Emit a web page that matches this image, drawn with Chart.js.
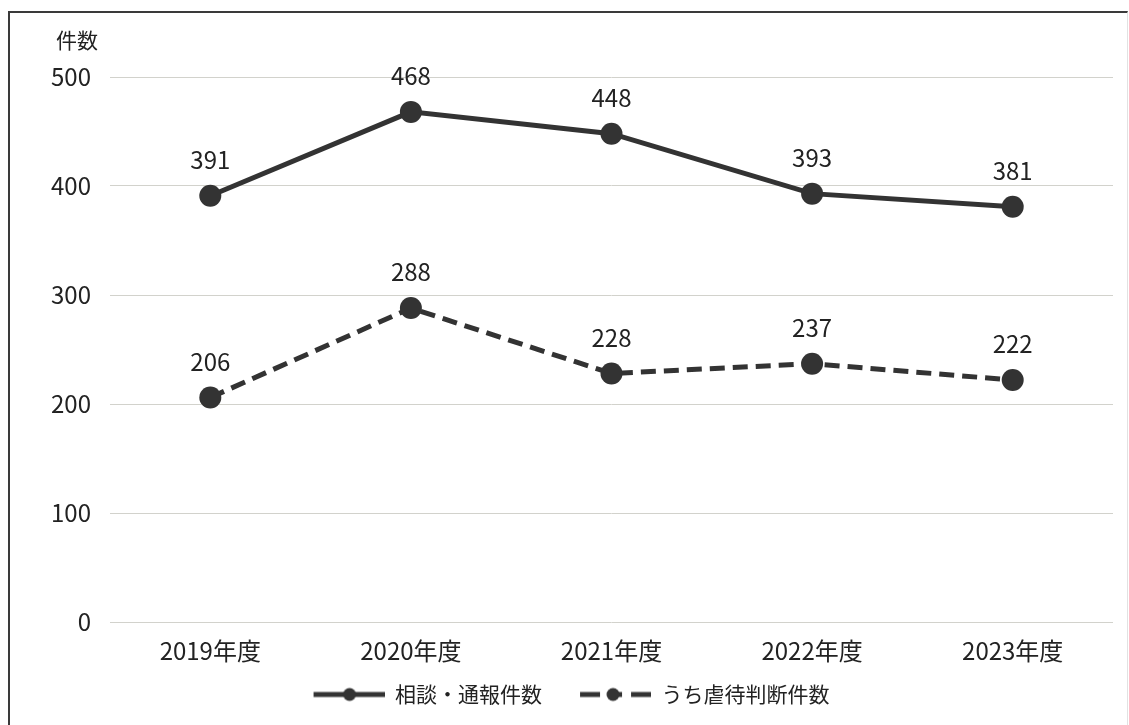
<!DOCTYPE html>
<html lang="ja">
<head>
<meta charset="utf-8">
<script src="https://cdn.jsdelivr.net/npm/chart.js@4.4.1/dist/chart.umd.min.js"></script>
<style>
  html, body { margin: 0; padding: 0; background: #fff; }
  #wrap { position: relative; width: 1129px; height: 725px; }
  #frame { position: absolute; left: 8px; top: 11px; right: 1px; bottom: -5px;
           border-top: 2px solid #3a3a3a; border-left: 2px solid #3a3a3a; border-right: 1px solid #e2e2e2; }
  canvas { position: absolute; left: 0; top: 0; }
</style>
</head>
<body>
<div id="wrap">
  <div id="frame"></div>
  <canvas id="trendChart" width="1129" height="725"></canvas>
</div>
<script>
// ---- data ----
const years = ['2019年度', '2020年度', '2021年度', '2022年度', '2023年度'];
const consultCounts = [391, 468, 448, 393, 381];   // 相談・通報件数
const abuseCounts = [206, 288, 228, 237, 222];     // うち虐待判断件数
const seriesNames = ['相談・通報件数', 'うち虐待判断件数'];
const yTicks = [0, 100, 200, 300, 400, 500];

const ink = '#333333';
const fontFamily = '"Noto Sans CJK JP", "Noto Sans", sans-serif';

// legend symbols: line with a dot in the middle (left part left blank as spacing)
const symW = 71;
const symGap = 30;
function legendSymbol(dashed) {
    const c = document.createElement('canvas');
    c.width = symW + symGap; c.height = 16;
    const g = c.getContext('2d');
    g.translate(symGap, 0);
    g.strokeStyle = ink; g.fillStyle = ink; g.lineWidth = 5;
    g.beginPath();
    if (dashed) {
        g.moveTo(0, 8); g.lineTo(20, 8);
        g.moveTo(28, 8); g.lineTo(42, 8);
        g.moveTo(51, 8); g.lineTo(71, 8);
    } else {
        g.moveTo(0, 8); g.lineTo(71, 8);
    }
    g.stroke();
    g.beginPath();
    g.arc(dashed ? 33 : 36, 8, 6.5, 0, Math.PI * 2);
    g.fill();
    return c;
}
const legendSymbols = [legendSymbol(false), legendSymbol(true)];

// value labels above points + axis unit
const labelPlugin = {
    id: 'valueLabels',
    afterDatasetsDraw(chart) {
        const ctx = chart.ctx;
        ctx.save();
        ctx.font = '24px ' + fontFamily;
        ctx.fillStyle = '#222';
        ctx.textAlign = 'center';
        ctx.textBaseline = 'middle';
        chart.data.datasets.forEach((ds, i) => {
            chart.getDatasetMeta(i).data.forEach((pt, j) => {
                ctx.fillText(String(ds.data[j]), pt.x, pt.y - 36);
            });
        });
        ctx.font = '21px ' + fontFamily;
        ctx.fillText('件数', 77, 40);
        ctx.restore();
    }
};

new Chart(document.getElementById('trendChart').getContext('2d'), {
    type: 'line',
    data: {
        labels: years,
        datasets: [{
            label: seriesNames[0],
            data: consultCounts,
            borderColor: ink,
            backgroundColor: ink,
            borderWidth: 5,
            pointStyle: 'circle',
            pointRadius: 11,
            pointBackgroundColor: ink,
            pointBorderWidth: 0,
            tension: 0
        }, {
            label: seriesNames[1],
            data: abuseCounts,
            borderColor: ink,
            backgroundColor: ink,
            borderWidth: 5,
            borderDash: [15, 8],
            pointStyle: 'circle',
            pointRadius: 11,
            pointBackgroundColor: ink,
            pointBorderWidth: 0,
            tension: 0
        }]
    },
    options: {
        responsive: false,
        animation: false,
        devicePixelRatio: 1,
        layout: { padding: { top: 77, right: 16, bottom: 10, left: 0 } },
        plugins: {
            tooltip: { enabled: false },
            legend: {
                position: 'bottom',
                labels: {
                    usePointStyle: true,
                    pointStyleWidth: symW + symGap,
                    padding: 8,
                    color: '#222',
                    font: { size: 21, family: fontFamily },
                    generateLabels(chart) {
                        return chart.data.datasets.map((ds, i) => ({
                            text: ds.label,
                            pointStyle: legendSymbols[i],
                            fillStyle: ink,
                            strokeStyle: ink,
                            lineWidth: 0,
                            fontColor: '#222',
                            datasetIndex: i
                        }));
                    }
                }
            }
        },
        scales: {
            x: {
                offset: true,
                grid: { display: false, drawTicks: false },
                border: { display: false },
                ticks: { color: '#222', padding: 14, maxRotation: 0, font: { size: 24, family: fontFamily } },
                afterFit(s) { s.height = 54; }
            },
            y: {
                min: 0,
                max: 500,
                afterBuildTicks(s) { s.ticks = yTicks.map(v => ({ value: v })); },
                grid: { color: '#d2d2cc', lineWidth: 1, drawTicks: false },
                border: { display: false },
                ticks: { color: '#222', padding: 19, font: { size: 24, family: fontFamily } },
                afterFit(s) { s.width = 110; }
            }
        }
    },
    plugins: [labelPlugin]
});
</script>
</body>
</html>
